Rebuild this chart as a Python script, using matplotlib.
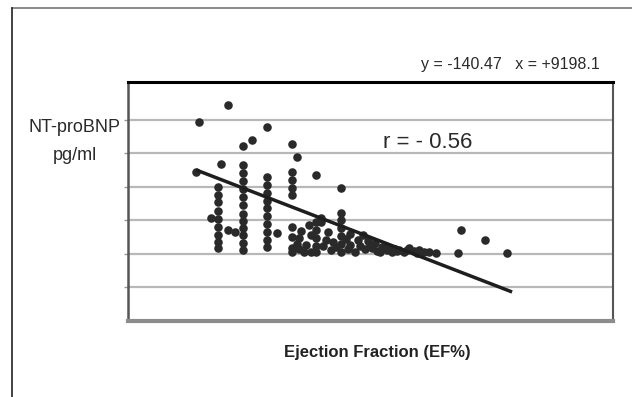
import matplotlib
matplotlib.use("Agg")
import matplotlib.pyplot as plt
from matplotlib.lines import Line2D

plt.rcParams['font.family'] = ['Liberation Sans', 'DejaVu Sans']

# ---- data (EF %, NT-proBNP pg/ml) ----
out_ef = [16, 22, 30, 25, 27, 35, 36, 20.5, 15.5, 40, 45, 69.5, 74.5, 69, 79]
out_nt = [5940, 6450, 5790, 5220, 5400, 5280, 4900, 4690, 4450, 4360, 3970, 2720, 2420, 2030, 2030]

c20_ef = [20, 20, 20, 20, 20, 20, 20, 20, 20, 18.5, 22, 23.5]
c20_nt = [4000, 3760, 3550, 3280, 3045, 2806, 2567, 2358, 2179, 3075, 2720, 2660]

c25_ef = [25] * 12
c25_nt = [4657, 4418, 4179, 3940, 3701, 3463, 3194, 2985, 2776, 2567, 2328, 2119]

c30_ef = [30] * 10 + [32]
c30_nt = [4299, 4060, 3821, 3582, 3373, 3134, 2896, 2657, 2418, 2209, 2630]

c35_ef = [35] * 8 + [36.5]
c35_nt = [4448, 4209, 3970, 3761, 2806, 2507, 2179, 2060, 2478]

c40_ef = [40] * 5 + [45] * 6
c40_nt = [2955, 2716, 2478, 2239, 2060, 3224, 3015, 2776, 2537, 2299, 2060]

mid_ef = [38, 39, 41, 42, 43, 37.5, 39, 36, 37, 41, 38.5, 42.5, 43.5, 44, 41.5, 46, 46.5, 36.5]
mid_nt = [2270, 2570, 2950, 2420, 2120, 2060, 2060, 2300, 2700, 3075, 2850, 2650, 2350, 2200,
          2250, 2450, 2150, 2150]

right_ef = [47, 47, 48, 48.5, 49.5, 50, 51, 51.5, 52.5, 53, 54, 54.5, 55.5, 56, 57, 58,
            59, 60, 61, 62, 63, 64.5, 58.5, 60.5, 49, 50.5, 52, 53.5, 55, 56.5]
right_nt = [2600, 2270, 2060, 2420, 2570, 2150, 2300, 2180, 2090, 2060, 2240, 2120, 2060,
            2150, 2120, 2060, 2180, 2090, 2120, 2060, 2060, 2030, 2120, 2030, 2250, 2380,
            2330, 2200, 2160, 2080]

trend_ef = [15.5, 80]
trend_nt = [4507, 866]

grid_levels = [1000, 2000, 3000, 4000, 5000, 6000]

equation_text = "y = -140.47   x = +9198.1"
r_text = "r = - 0.56"
ylabel_lines = ["NT-proBNP", "pg/ml"]
xlabel_text = "Ejection Fraction (EF%)"

ef = out_ef + c20_ef + c25_ef + c30_ef + c35_ef + c40_ef + mid_ef + right_ef
nt = out_nt + c20_nt + c25_nt + c30_nt + c35_nt + c40_nt + mid_nt + right_nt

# ---- figure ----
fig = plt.figure(figsize=(6.32, 3.97), dpi=100)
fig.patch.set_facecolor("white")
ax = fig.add_axes([0.2025, 0.1914, 0.7675, 0.602])
ax.set_xlim(1.6, 100.6)
ax.set_ylim(0, 7130)

for g in grid_levels:
    ax.axhline(g, color="#b8b8b8", lw=1.6, zorder=1)

ax.scatter(ef, nt, s=38, color="#2a2a2a", zorder=3, linewidths=0)
ax.plot(trend_ef, trend_nt, color="#1e1e1e", lw=2.5, zorder=4, solid_capstyle="butt")

ax.set_xticks([])
ax.set_yticks(grid_levels)
ax.set_yticklabels([])
ax.tick_params(axis="y", length=3, width=1, color="#999999", direction="out")

ax.spines["top"].set_color("#000000")
ax.spines["top"].set_linewidth(2.2)
ax.spines["left"].set_color("#555555")
ax.spines["left"].set_linewidth(1.8)
ax.spines["bottom"].set_color("#8c8c8c")
ax.spines["bottom"].set_linewidth(3)
ax.spines["right"].set_color("#555555")
ax.spines["right"].set_linewidth(1.5)

# outer frame
fig.add_artist(Line2D([12 / 632, 1.0], [1 - 8 / 397, 1 - 8 / 397],
                      transform=fig.transFigure, color="#777777", lw=1.2))
fig.add_artist(Line2D([12 / 632, 12 / 632], [1 - 8 / 397, 0.0],
                      transform=fig.transFigure, color="#222222", lw=1.2))

fig.text(510 / 632, 1 - 65 / 397, equation_text, ha="center", va="center",
         fontsize=11.5, color="#2a2a2a")
fig.text(428 / 632, 1 - 142 / 397, r_text, ha="center", va="center",
         fontsize=16, color="#2a2a2a")
fig.text(75 / 632, 1 - 128 / 397, ylabel_lines[0], ha="center", va="center",
         fontsize=13, color="#2a2a2a")
fig.text(75 / 632, 1 - 155 / 397, ylabel_lines[1], ha="center", va="center",
         fontsize=13, color="#2a2a2a")
fig.text(377 / 632, 1 - 352 / 397, xlabel_text, ha="center", va="center",
         fontsize=12, color="#222222", fontweight="bold")

fig.savefig("out.png", dpi=100, facecolor="white")
